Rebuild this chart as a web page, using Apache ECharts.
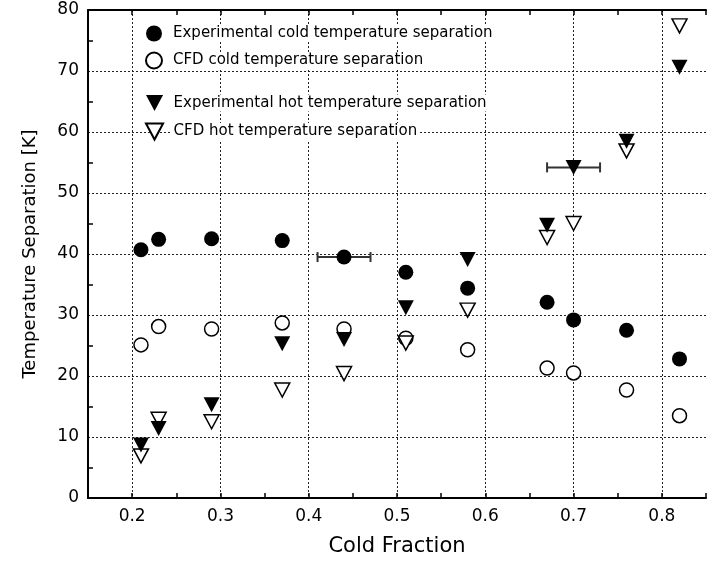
<!DOCTYPE html>
<html>
<head>
<meta charset="utf-8">
<script src="https://cdn.jsdelivr.net/npm/echarts@6/dist/echarts.min.js"></script>
<style>
  html, body { margin: 0; padding: 0; background: #fff; }
  #chart { width: 709px; height: 567px; }
</style>
</head>
<body>
<div id="chart"></div>
<script>
// Cold fraction values shared by all four data sets
const coldFraction = [0.21, 0.23, 0.29, 0.37, 0.44, 0.51, 0.58, 0.67, 0.70, 0.76, 0.82];

// Temperature separation [K]
const expCold = [40.7, 42.4, 42.5, 42.2, 39.5, 37.0, 34.4, 32.1, 29.2, 27.5, 22.8];
const cfdCold = [25.1, 28.1, 27.7, 28.7, 27.7, 26.2, 24.3, 21.3, 20.5, 17.7, 13.5];
const expHot  = [8.7, 11.4, 15.3, 25.3, 26.0, 31.2, 39.1, 44.7, 54.2, 58.5, 70.6];
const cfdHot  = [6.9, 12.9, 12.5, 17.7, 20.4, 25.4, 30.8, 42.7, 45.0, 56.9, 77.4];

// Horizontal error bars: [cold fraction, temperature separation, half width]
const errorBars = [
  [0.44, 39.5, 0.03],
  [0.70, 54.2, 0.03]
];

const seriesNames = [
  'Experimental cold temperature separation',
  'CFD cold temperature separation',
  'Experimental hot temperature separation',
  'CFD hot temperature separation'
];

const FONT = 'DejaVu Sans';
const DOWN_TRIANGLE = 'path://M0,0L16,0L8,15Z';
const pair = (ys) => coldFraction.map((x, i) => [x, ys[i]]);

const chart = echarts.init(document.getElementById('chart'), null, { renderer: 'canvas' });

const legendText = {
  fontFamily: FONT, fontSize: 15, color: '#000',
  backgroundColor: '#fff', padding: [1, 2, 1, 3]
};

const option = {
  animation: false,
  backgroundColor: '#fff',
  grid: { left: 88, top: 10, width: 621, height: 488, containLabel: false },
  legend: [
    {
      data: [
        { name: seriesNames[0], icon: 'circle' },
        { name: seriesNames[1], icon: 'circle' }
      ],
      orient: 'vertical', left: 145, top: 25, padding: 0,
      itemWidth: 22, itemHeight: 16, itemGap: 9.5,
      selectedMode: false, textStyle: legendText
    },
    {
      data: [
        { name: seriesNames[2], icon: DOWN_TRIANGLE },
        { name: seriesNames[3], icon: DOWN_TRIANGLE }
      ],
      orient: 'vertical', left: 145, top: 94.5, padding: 0,
      itemWidth: 22, itemHeight: 16, itemGap: 11,
      selectedMode: false, textStyle: legendText
    }
  ],
  xAxis: [
    {
      type: 'value', position: 'bottom',
      min: 0.15, max: 0.85, interval: 0.05,
      name: 'Cold Fraction', nameLocation: 'middle', nameGap: 38,
      nameTextStyle: { fontFamily: FONT, fontSize: 21, color: '#000' },
      axisLine: { show: true, onZero: false, lineStyle: { color: '#000', width: 2 } },
      axisTick: { show: true, inside: true, length: 5, lineStyle: { color: '#000', width: 1.5 } },
      axisLabel: {
        fontFamily: FONT, fontSize: 17, color: '#000', margin: 10,
        formatter: (v) => Math.abs(v * 10 - Math.round(v * 10)) < 1e-6 ? v.toFixed(1) : ''
      },
      splitLine: { show: false }
    },
    {
      type: 'value', position: 'top',
      min: 0.15, max: 0.85, interval: 0.05,
      axisLine: { show: true, onZero: false, lineStyle: { color: '#000', width: 2 } },
      axisTick: { show: true, inside: true, length: 5, lineStyle: { color: '#000', width: 1.5 } },
      axisLabel: { show: false },
      splitLine: {
        show: true,
        lineStyle: { color: ['rgba(0,0,0,0)', '#222'], width: 1, type: [2, 2] }
      }
    }
  ],
  yAxis: [
    {
      type: 'value', min: 0, max: 80, interval: 10,
      name: 'Temperature Separation [K]', nameLocation: 'middle', nameGap: 49,
      nameRotate: 90,
      nameTextStyle: { fontFamily: FONT, fontSize: 18, color: '#000' },
      axisLine: { show: true, onZero: false, lineStyle: { color: '#000', width: 2 } },
      axisTick: { show: false, inside: true, length: 5 },
      minorTick: { show: true, splitNumber: 2, length: 5, lineStyle: { color: '#000', width: 1.5 } },
      axisLabel: { fontFamily: FONT, fontSize: 17, color: '#000', margin: 9 },
      splitLine: { show: true, lineStyle: { color: '#222', width: 1, type: [2, 2] } }
    }
  ],
  series: [
    {
      name: 'error bars', type: 'custom', z: 1, silent: true,
      data: errorBars,
      encode: { x: 0, y: 1 },
      renderItem: (params, api) => {
        const x = api.value(0), y = api.value(1), h = api.value(2);
        const lo = api.coord([x - h, y]);
        const hi = api.coord([x + h, y]);
        const cap = 5;
        const style = { stroke: '#333', lineWidth: 2, fill: null };
        return {
          type: 'group',
          children: [
            { type: 'line', shape: { x1: lo[0], y1: lo[1], x2: hi[0], y2: hi[1] }, style },
            { type: 'line', shape: { x1: lo[0], y1: lo[1] - cap, x2: lo[0], y2: lo[1] + cap }, style },
            { type: 'line', shape: { x1: hi[0], y1: hi[1] - cap, x2: hi[0], y2: hi[1] + cap }, style }
          ]
        };
      }
    },
    {
      name: seriesNames[1], type: 'scatter', z: 2,
      data: pair(cfdCold),
      symbol: 'circle', symbolSize: 14,
      itemStyle: { color: '#fff', borderColor: '#000', borderWidth: 1.5, opacity: 1 }
    },
    {
      name: seriesNames[3], type: 'scatter', z: 2,
      data: pair(cfdHot),
      symbol: 'triangle', symbolRotate: 180, symbolSize: [15, 14],
      itemStyle: { color: '#fff', borderColor: '#000', borderWidth: 1.5, opacity: 1 }
    },
    {
      name: seriesNames[0], type: 'scatter', z: 3,
      data: pair(expCold),
      symbol: 'circle', symbolSize: 15,
      itemStyle: { color: '#000', opacity: 1 }
    },
    {
      name: seriesNames[2], type: 'scatter', z: 3,
      data: pair(expHot),
      symbol: 'triangle', symbolRotate: 180, symbolSize: [16, 15],
      itemStyle: { color: '#000', opacity: 1 }
    }
  ]
};

chart.setOption(option);
</script>
</body>
</html>
